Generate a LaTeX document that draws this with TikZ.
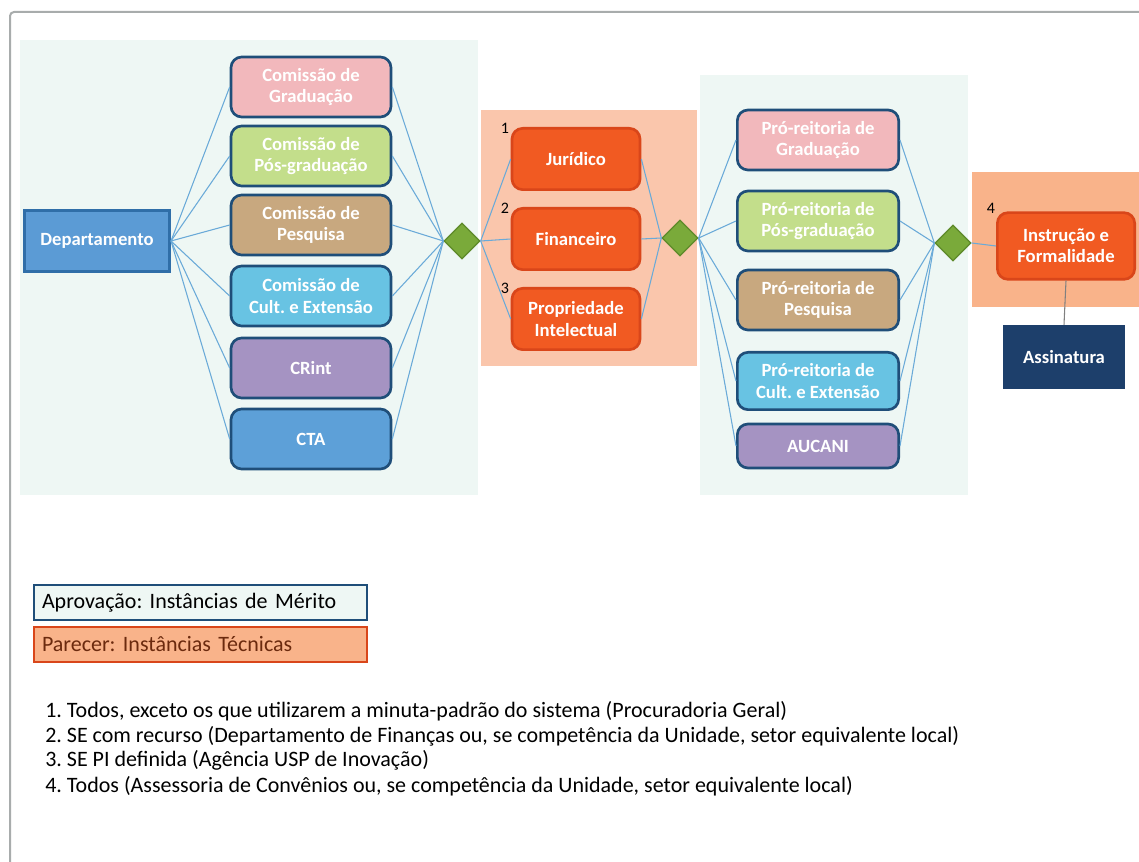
\documentclass[tikz,border=0pt]{standalone}
\usepackage{fontspec}
\setmainfont{Carlito}
\usetikzlibrary{shapes.geometric}
\frenchspacing

\definecolor{navy}{HTML}{1F4E79}
\definecolor{meritbg}{HTML}{EEF7F4}
\definecolor{techbg}{HTML}{FAC6AC}
\definecolor{techbgb}{HTML}{F9B38A}
\definecolor{orangebox}{HTML}{F15A22}
\definecolor{orangeline}{HTML}{D9461A}
\definecolor{pinkbox}{HTML}{F2B8BC}
\definecolor{greenbox}{HTML}{C3DE8B}
\definecolor{tanbox}{HTML}{C8A87F}
\definecolor{cyanbox}{HTML}{68C3E3}
\definecolor{purplebox}{HTML}{A593C2}
\definecolor{bluebox}{HTML}{5DA0D8}
\definecolor{deptbox}{HTML}{5B9BD5}
\definecolor{deptline}{HTML}{2F6EA8}
\definecolor{lozfill}{HTML}{7AAA3A}
\definecolor{lozline}{HTML}{5E8A2A}
\definecolor{signbox}{HTML}{1D3F6B}
\definecolor{linkblue}{HTML}{6AAAD8}
\definecolor{framegrey}{HTML}{A8ACAC}
\definecolor{notebrown}{HTML}{6B2A0E}

\begin{document}
\begin{tikzpicture}[x=0.75pt,y=-0.75pt,
	box/.style={draw=navy, line width=2pt, rounded corners=8pt, minimum width=120pt, minimum height=45pt, align=center, text=white, inner sep=2pt, font=\fontsize{14}{16}\selectfont\bfseries},
	tech/.style={box, draw=orangeline, fill=orangebox, minimum width=96pt, minimum height=46pt},
	lozenge/.style={diamond, draw=lozline, fill=lozfill, line width=1pt, minimum size=27pt, inner sep=0pt},
	link/.style={draw=linkblue, line width=0.8pt},
	numlabel/.style={font=\fontsize{12}{12}\selectfont},
	legend/.style={line width=1.5pt, minimum height=26pt, text width=238pt, inner xsep=6pt, align=left, font=\fontsize{16.5}{18}\selectfont},
	note/.style={anchor=base west, inner sep=0pt, font=\fontsize{16.5}{18}\selectfont}]
	\useasboundingbox (0,0) rectangle (1139,862);
	\fill[white] (0,0) rectangle (1139,862);

	% frame and panels
	\draw[framegrey, line width=1.5pt, rounded corners=3pt] (1139,12) -- (10,12) -- (10,862);
	\fill[meritbg] (20,40) rectangle (478,495);
	\fill[meritbg] (700,75) rectangle (968,495);
	\fill[techbg] (481,110) rectangle (697,366);
	\fill[techbgb] (972,172) rectangle (1139,307);

	% merit instances
	\node (depto) [draw=deptline, fill=deptbox, line width=2pt, minimum width=109pt, minimum height=46pt, text=white, font=\fontsize{14}{16}\selectfont\bfseries] at (97,241) {Departamento};
	\node (cgrad) [box, fill=pinkbox] at (311,87) {Comissão de\\Graduação};
	\node (cpos) [box, fill=greenbox] at (311,156) {Comissão de\\Pós-graduação};
	\node (cpesq) [box, fill=tanbox] at (311,225) {Comissão de\\Pesquisa};
	\node (cext) [box, fill=cyanbox] at (311,296) {Comissão de\\Cult. e Extensão};
	\node (crint) [box, fill=purplebox] at (311,368) {CRint};
	\node (cta) [box, fill=bluebox] at (311,439) {CTA};

	\node (lozA) [lozenge] at (462,241) {};

	% technical instances
	\node (jur) [tech] at (576,159) {Jurídico};
	\node (fin) [tech] at (576,239) {Financeiro};
	\node (prop) [tech] at (576,319) {Propriedade\\Intelectual};
	\node (n1) [numlabel] at (505,128) {1};
	\node (n2) [numlabel] at (505,208) {2};
	\node (n3) [numlabel] at (505,288) {3};

	\node (lozB) [lozenge] at (680,238) {};

	\node (prgrad) [box, fill=pinkbox, minimum width=121pt] at (818,140) {Pró-reitoria de\\Graduação};
	\node (prpos) [box, fill=greenbox, minimum width=121pt] at (818,221) {Pró-reitoria de\\Pós-graduação};
	\node (prpesq) [box, fill=tanbox, minimum width=121pt] at (818,300) {Pró-reitoria de\\Pesquisa};
	\node (prext) [box, fill=cyanbox, minimum width=121pt, minimum height=43pt] at (818,381) {Pró-reitoria de\\Cult. e Extensão};
	\node (aucani) [box, fill=purplebox, minimum width=121pt, minimum height=33pt] at (818,446) {AUCANI};

	\node (lozC) [lozenge] at (953,243) {};

	\node (instr) [tech, minimum width=103pt, minimum height=50pt] at (1066,246) {Instrução e\\Formalidade};
	\node (n4) [numlabel] at (991,208) {4};
	\node (sign) [fill=signbox, minimum width=92pt, minimum height=48pt, text=white, font=\fontsize{14}{16}\selectfont\bfseries] at (1064,357) {Assinatura};

	% connectors
	\draw[link] (depto.east) -- (cgrad.west);
	\draw[link] (depto.east) -- (cpos.west);
	\draw[link] (depto.east) -- (cpesq.west);
	\draw[link] (depto.east) -- (cext.west);
	\draw[link] (depto.east) -- (crint.west);
	\draw[link] (depto.east) -- (cta.west);
	\draw[link] (cgrad.east) -- (lozA.west);
	\draw[link] (cpos.east) -- (lozA.west);
	\draw[link] (cpesq.east) -- (lozA.west);
	\draw[link] (cext.east) -- (lozA.west);
	\draw[link] (crint.east) -- (lozA.west);
	\draw[link] (cta.east) -- (lozA.west);

	\draw[link] (lozA.east) -- (jur.west);
	\draw[link] (lozA.east) -- (fin.west);
	\draw[link] (lozA.east) -- (prop.west);
	\draw[link] (jur.east) -- (lozB.west);
	\draw[link] (fin.east) -- (lozB.west);
	\draw[link] (prop.east) -- (lozB.west);

	\draw[link] (lozB.east) -- (prgrad.west);
	\draw[link] (lozB.east) -- (prpos.west);
	\draw[link] (lozB.east) -- (prpesq.west);
	\draw[link] (lozB.east) -- (prext.west);
	\draw[link] (lozB.east) -- (aucani.west);
	\draw[link] (prgrad.east) -- (lozC.west);
	\draw[link] (prpos.east) -- (lozC.west);
	\draw[link] (prpesq.east) -- (lozC.west);
	\draw[link] (prext.east) -- (lozC.west);
	\draw[link] (aucani.east) -- (lozC.west);

	\draw[link] (lozC.east) -- (instr.west);
	\draw[link, draw=gray] (instr.south) -- (sign.north);

	% legend
	\node (legmerit) [legend, draw=navy, fill=meritbg, anchor=west] at (33,602.5) {Aprovação: Instâncias de Mérito};
	\node (legtech) [legend, draw=orangeline, fill=techbgb, text=notebrown, anchor=west] at (33,644.5) {Parecer: Instâncias Técnicas};

	% notes
	\node (fn1) [note] at (45,717) {1. Todos, exceto os que utilizarem a minuta-padrão do sistema (Procuradoria Geral)};
	\node (fn2) [note] at (45,742) {2. SE com recurso (Departamento de Finanças ou, se competência da Unidade, setor equivalente local)};
	\node (fn3) [note] at (45,766) {3. SE PI definida (Agência USP de Inovação)};
	\node (fn4) [note] at (45,792) {4. Todos (Assessoria de Convênios ou, se competência da Unidade, setor equivalente local)};
\end{tikzpicture}
\end{document}
